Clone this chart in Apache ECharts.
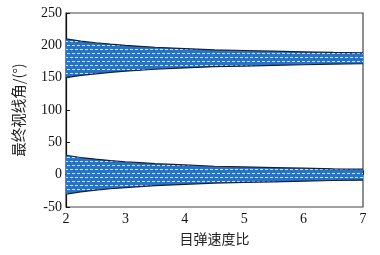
<!DOCTYPE html>
<html><head><meta charset="utf-8">
<script src="https://cdn.jsdelivr.net/npm/echarts@6/dist/echarts.min.js"></script>
<style>html,body{margin:0;padding:0;background:#fff}#c{width:380px;height:255px}</style>
</head><body><div id="c"></div>
<script>
var xs = [2, 2.25, 2.5, 2.75, 3, 3.25, 3.5, 4, 4.5, 5, 5.5, 6, 6.5, 7];
var upperTop = [210, 206.5, 204, 201.8, 200, 198.5, 197, 195, 193, 192, 191, 190, 189, 188.5];
var upperBottom = [150, 153.5, 156, 158.2, 160, 161.5, 163, 165, 167, 168, 169, 170, 171, 171.5];
var lowerTop = [30, 26.5, 24, 21.8, 20, 18.5, 17, 15, 13, 12, 11, 10, 9, 8.5];
var lowerBottom = [-30, -26.5, -24, -21.8, -20, -18.5, -17, -15, -13, -12, -11, -10, -9, -8.5];
var xTicks = [2, 3, 4, 5, 6, 7];
var yTicks = [-50, 0, 50, 100, 150, 200, 250];

function makePattern() {
  var c = document.createElement('canvas');
  c.width = 10; c.height = 8;
  var g = c.getContext('2d');
  g.fillStyle = '#2c72c2';
  g.fillRect(0, 0, 10, 8);
  g.fillStyle = '#cfe5ff';
  g.fillRect(0, 1, 3, 1);
  g.fillRect(5, 1, 3, 1);
  g.fillRect(2, 5, 3, 1);
  g.fillRect(7, 5, 3, 1);
  return c;
}
var pat = { image: makePattern(), repeat: 'repeat' };

function pairs(a) { return xs.map(function (x, i) { return [x, a[i]]; }); }

var bands = [
  { top: upperTop, bot: upperBottom },
  { top: lowerTop, bot: lowerBottom }
];

var edge = { color: '#14213a', width: 1.2 };
var series = [{
  type: 'custom',
  data: [0, 1],
  silent: true,
  z: 2,
  renderItem: function (params, api) {
    var b = bands[params.dataIndex];
    var pts = [];
    for (var i = 0; i < xs.length; i++) pts.push(api.coord([xs[i], b.top[i]]));
    for (var j = xs.length - 1; j >= 0; j--) pts.push(api.coord([xs[j], b.bot[j]]));
    return { type: 'polygon', shape: { points: pts }, style: { fill: pat, stroke: null } };
  },
  clip: true
}];
bands.forEach(function (b) {
  series.push({ type: 'line', data: pairs(b.top), symbol: 'none', lineStyle: edge, z: 3 });
  series.push({ type: 'line', data: pairs(b.bot), symbol: 'none', lineStyle: edge, z: 3 });
});

var font = '"Liberation Serif", "Times New Roman", serif';
var chart = echarts.init(document.getElementById('c'), null, { renderer: 'canvas' });
chart.setOption({
  animation: false,
  backgroundColor: '#fff',
  grid: { left: 66, right: 17, top: 13, bottom: 48, show: true, borderColor: '#444', borderWidth: 1.2 },
  xAxis: {
    type: 'value', min: xTicks[0], max: xTicks[xTicks.length - 1], interval: 1,
    name: '目弹速度比', nameLocation: 'middle', nameGap: 25,
    nameTextStyle: { fontFamily: '"Noto Sans CJK SC", sans-serif', fontSize: 14, color: '#222' },
    axisLine: { lineStyle: { color: '#111', width: 1.2 } },
    axisTick: { inside: true, length: 4, lineStyle: { color: '#111' } },
    minorTick: { show: true, splitNumber: 2, length: 4, lineStyle: { color: '#111' } },
    axisLabel: { fontFamily: font, fontSize: 14, color: '#111', margin: 5 },
    splitLine: { show: false }
  },
  yAxis: {
    type: 'value', min: yTicks[0], max: yTicks[yTicks.length - 1], interval: 50,
    name: '最终视线角/(°)', nameLocation: 'middle', nameGap: 40,
    nameTextStyle: { fontFamily: '"Noto Sans CJK SC", sans-serif', fontSize: 14.5, color: '#222' },
    axisLine: { lineStyle: { color: '#111', width: 1.2 } },
    axisTick: { inside: true, length: 4, lineStyle: { color: '#111' } },
    axisLabel: { fontFamily: font, fontSize: 14, color: '#111', margin: 4 },
    splitLine: { show: false }
  },
  series: series
});
</script></body></html>
